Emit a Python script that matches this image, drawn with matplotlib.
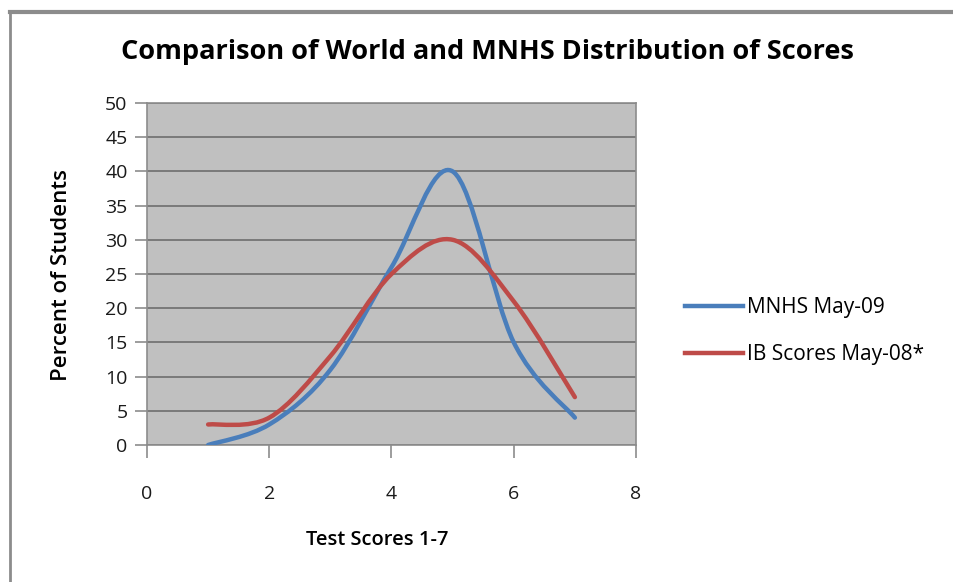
import numpy as np
import matplotlib.pyplot as plt
from matplotlib.path import Path
from matplotlib.patches import PathPatch
from matplotlib.lines import Line2D

scores = [1, 2, 3, 4, 5, 6, 7]
mnhs_may09 = [0, 3, 11, 26, 40, 15, 4]
ib_may08 = [3, 4, 13, 25, 30, 21, 7]

series_names = ['MNHS May-09', 'IB Scores May-08*']
series_colors = ['#4a7ebb', '#be4b48']

font = 'Open Sans'


def smooth_path(x, y):
    # Excel-style smoothed line: cubic Bezier through each point
    pts = np.column_stack([x, y]).astype(float)
    ext = np.vstack([pts[0], pts, pts[-1]])
    verts = [pts[0]]
    codes = [Path.MOVETO]
    for i in range(1, len(ext) - 2):
        p0, p1, p2, p3 = ext[i - 1], ext[i], ext[i + 1], ext[i + 2]
        c1 = p1 + (p2 - p0) / 6
        c2 = p2 - (p3 - p1) / 6
        verts += [c1, c2, p2]
        codes += [Path.CURVE4] * 3
    return Path(verts, codes)


fig = plt.figure(figsize=(9.54, 5.82), dpi=100)
ax = fig.add_axes([147 / 954, 1 - 445 / 582, 489 / 954, 342 / 582])
ax.set_facecolor('#c0c0c0')

for vals, color in zip([mnhs_may09, ib_may08], series_colors):
    ax.add_patch(PathPatch(smooth_path(scores, vals), facecolor='none',
                           edgecolor=color, lw=3.2, capstyle='round', zorder=3))

ax.set_xlim(0, 8)
ax.set_ylim(0, 50)
ax.set_xticks(range(0, 9, 2))
ax.set_yticks(range(0, 51, 5))
ax.grid(axis='y', color='#6e6e6e', lw=1.2)
ax.set_axisbelow(True)
for s in ax.spines.values():
    s.set_color('#8c8c8c')
    s.set_linewidth(1.2)
ax.tick_params(colors='#8c8c8c', length=9, width=1.2, labelcolor='#1a1a1a',
               labelsize=14)
ax.tick_params(axis='x', pad=20)
ax.tick_params(axis='y', pad=5)
for lbl in ax.get_xticklabels() + ax.get_yticklabels():
    lbl.set_family(font)

fig.text(377 / 954, 1 - 540 / 582, 'Test Scores 1-7', family=font, fontsize=14.5,
         fontweight='semibold', ha='center', va='center')
fig.text(62 / 954, 1 - 275 / 582, 'Percent of Students', family=font, fontsize=16,
         fontweight='semibold', rotation=90, ha='center', va='center')
fig.text(487 / 954, 1 - 52 / 582, 'Comparison of World and MNHS Distribution of Scores',
         family=font, fontsize=19.5, fontweight='bold', ha='center', va='center')

handles = [Line2D([], [], color=c, lw=3.2) for c in series_colors]
fig.legend(handles, series_names, loc='center left',
           bbox_to_anchor=(666 / 954, 1 - 331 / 582), frameon=False,
           prop={'family': font, 'size': 15}, handlelength=2.8,
           handletextpad=0.2, labelspacing=1.25)

# outer chart border
fig.add_artist(Line2D([10 / 954, 1], [1 - 12 / 582] * 2, color='#8c8c8c',
                      lw=3, transform=fig.transFigure))
fig.add_artist(Line2D([10 / 954] * 2, [0, 1 - 12 / 582], color='#8c8c8c',
                      lw=2, transform=fig.transFigure))

fig.savefig('out.png', dpi=100)
